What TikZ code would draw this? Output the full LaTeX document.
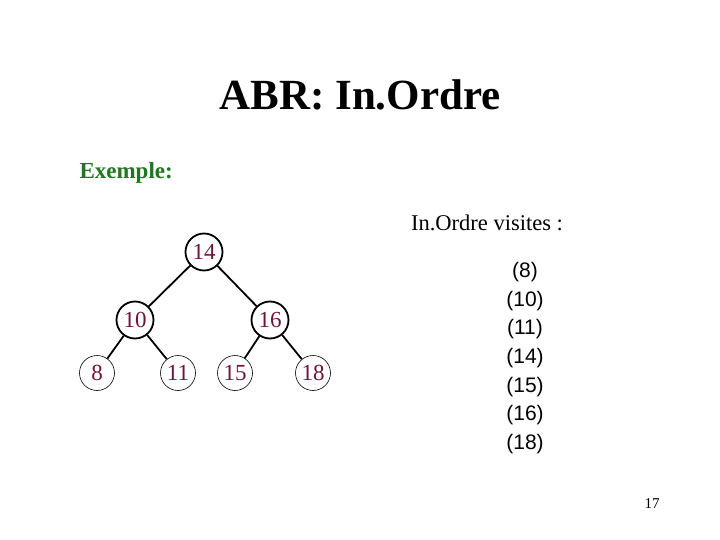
\documentclass[tikz,border=0pt]{standalone}
\usepackage{fontspec}
\setmainfont{Liberation Serif}
\newfontfamily\listfont{Liberation Sans}
\definecolor{nodered}{RGB}{110,20,60}
\definecolor{exgreen}{RGB}{30,120,30}
\tikzset{
  inner/.style={circle, draw, line width=1.8pt, minimum size=37pt, inner sep=0pt, text=nodered, font=\fontsize{23}{25}\selectfont},
  leaf/.style={circle, draw, line width=0.6pt, minimum size=35pt, inner sep=0pt, text=nodered, font=\fontsize{23}{25}\selectfont},
  edge/.style={line width=1.8pt}
}
\begin{document}
\begin{tikzpicture}[x=1pt,y=-1pt]
		\useasboundingbox (0,0) rectangle (720,540);
		\node[font=\bfseries\fontsize{43}{46}\selectfont] (title) at (360,95) {ABR: In.Ordre};
		\node[anchor=west, text=exgreen, font=\bfseries\fontsize{23}{25}\selectfont] (ex) at (76,173) {Exemple:};

		% arbre
		\node[inner] (n14) at (204,252) {14};
		\node[inner] (n10) at (135,320) {10};
		\node[inner] (n16) at (270,320) {16};
		\node[leaf] (n8) at (97,373) {8};
		\node[leaf] (n11) at (178,373) {11};
		\node[leaf] (n15) at (235,373) {15};
		\node[leaf] (n18) at (313,373) {18};
		\draw[edge] (n14) -- (n10);
		\draw[edge] (n14) -- (n16);
		\draw[edge] (n10) -- (n8);
		\draw[edge] (n10) -- (n11);
		\draw[edge] (n16) -- (n15);
		\draw[edge] (n16) -- (n18);

		% visites
		\node[font=\fontsize{22.5}{24}\selectfont] (vis) at (487,223) {In.Ordre visites :};
		\foreach \v [count=\i from 0] in {8,10,11,14,15,16,18}
			\node[font=\listfont\fontsize{21}{23}\selectfont] (v\v) at (525,272+28.7*\i) {(\v)};

		\node[font=\fontsize{15}{17}\selectfont] (page) at (652,504) {17};
\end{tikzpicture}
\end{document}
